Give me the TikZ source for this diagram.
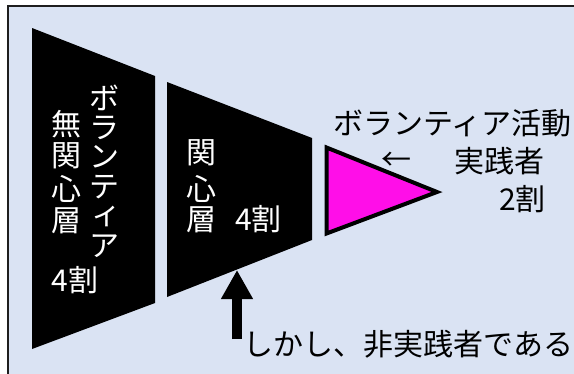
\documentclass[tikz,border=0pt]{standalone}
\usepackage{fontspec}
\setmainfont{Noto Sans CJK JP}
\usetikzlibrary{arrows.meta}
\definecolor{bgblue}{RGB}{218,227,243}
\definecolor{pinkfill}{RGB}{255,14,232}
\definecolor{framecol}{RGB}{30,30,30}
\tikzset{
  wtext/.style={inner sep=0pt, text=white, font=\fontsize{30}{30}\selectfont},
  ktext/.style={inner sep=0pt, text=black, font=\fontsize{30}{30}\selectfont},
  funnel/.style={fill=black, draw=none},
  pinktri/.style={fill=pinkfill, draw=black, line width=4pt, line join=miter},
  bigarrow/.style={line width=10pt, -{Triangle[length=29pt,width=30pt]}}
}
\begin{document}
\begin{tikzpicture}[x=1pt,y=-1pt]
\useasboundingbox (0,0) rectangle (574,373);
% background frame
\fill[bgblue] (8,6) rectangle (576,375);
\draw[framecol, line width=2pt] (8,376) -- (8,6) -- (576,6);
% funnel shapes
\fill[funnel] (32,28) -- (155,76) -- (155,303) -- (32,349) -- cycle;
\fill[funnel] (167,82) -- (312,138) -- (312,240) -- (167,297) -- cycle;
\draw[pinktri] (326.5,147.5) -- (437,192) -- (326.5,233.5) -- cycle;
% left trapezoid vertical text
\foreach \ch/\yy [count=\i] in {ボ/98,ラ/127.6,ン/157.2,テ/186.8,ア/246}
  \node[wtext] (va\i) at (104,\yy) {\ch};
\node[wtext] (vsmall) at (107,216.5) {ィ};
\foreach \ch/\yy [count=\i] in {無/124.5,関/156,心/189,層/220.5}
  \node[wtext] (vb\i) at (67,\yy) {\ch};
\node[wtext] (lwari) at (75,280) {4割};
% middle trapezoid text
\node[wtext] (m1) at (201,153) {関};
\node[wtext] (m2) at (201,189) {心};
\node[wtext] (m3) at (201,219.5) {層};
\node[wtext] (mwari) at (258.5,219.5) {4割};
% right text
\node[ktext] (r1) at (452.5,123) {ボランティア活動};
\node[ktext] (r2) at (499,161) {実践者};
\node[ktext] (r3) at (522.5,199) {2割};
\node[ktext] (rarr) at (396,161) {←};
% bottom arrow and text
\coordinate (abot) at (237,339);
\coordinate (atip) at (237,270);
\draw[bigarrow] (abot) -- (atip);
\node[ktext] (btext) at (408.5,344) {しかし、非実践者である};
\end{tikzpicture}
\end{document}
